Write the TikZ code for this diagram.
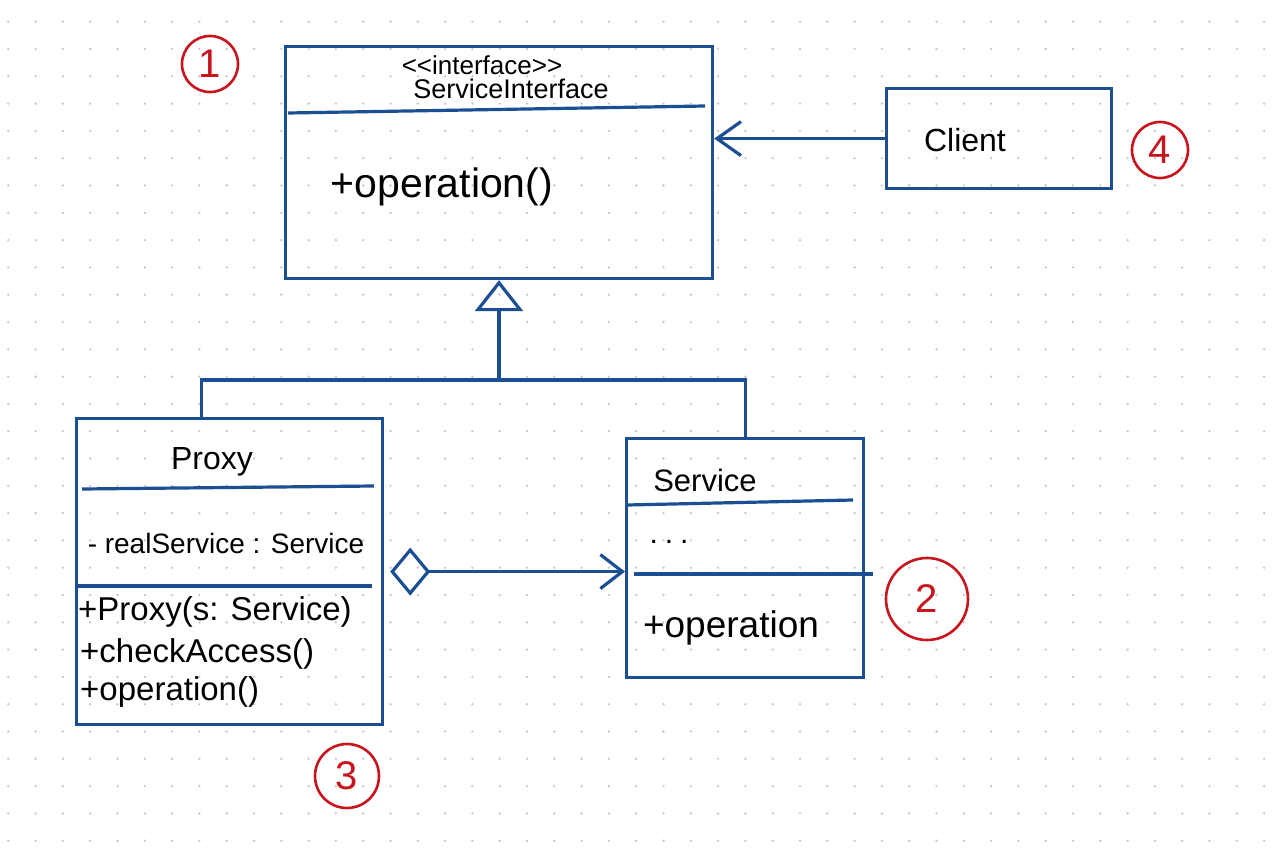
\documentclass[tikz,border=0pt]{standalone}
\usepackage{fontspec}
\setmainfont{Liberation Sans}
\usetikzlibrary{arrows.meta,calc}
\definecolor{azul}{HTML}{1C4E94}
\definecolor{rojo}{HTML}{C8141C}
\definecolor{punto}{HTML}{C8C8C8}
\tikzset{
  caja/.style={draw=azul, line width=3.2pt, rectangle, anchor=north west, inner sep=0pt},
  linea/.style={draw=azul, line width=3.2pt},
  texto/.style={inner sep=0pt, text=black},
  marca/.style={circle, draw=rojo, line width=2.6pt, text=rojo, inner sep=0pt, font=\fontsize{40}{40}\selectfont},
  asoc/.style={linea, -{Straight Barb[length=24pt, width=34pt]}},
  herencia/.style={linea, -{Triangle[open, length=31pt, width=48pt]}},
  agreg/.style={linea, {Diamond[open, length=40pt, width=48pt]}-{Straight Barb[length=22pt, width=34pt]}, shorten <=6pt}
}

\begin{document}
\begin{tikzpicture}[x=1pt, y=-1pt]
% Fondo y cuadricula de puntos
\useasboundingbox (0,0) rectangle (1280,851);
\fill[white] (0,0) rectangle (1280,851);
\foreach \i in {0,...,46} {
  \foreach \j in {0,...,30} {
    \fill[punto] ({8.3+27.3*\i},{21.7+27.3*\j}) circle (1.3pt);
  }
}
% Interfaz ServiceInterface
\node[caja, minimum width=427pt, minimum height=232pt] (iface) at (284,45) {};
\node[texto, font=\fontsize{26}{28}\selectfont] (estereo) at (482,65) {{<}{<}interface{>}{>}};
\node[texto, font=\fontsize{27}{29}\selectfont] (ifacenombre) at (511,89) {ServiceInterface};
\draw[linea] (288,113) -- (705,106);
\node[texto, font=\fontsize{41}{44}\selectfont] (ifaceop) at (442,187) {+operation()};
% Client
\node[caja, minimum width=225pt, minimum height=100pt] (client) at (885,87) {};
\node[texto, font=\fontsize{32}{34}\selectfont] (clientnombre) at (965,140) {Client};
% Proxy
\node[caja, minimum width=306pt, minimum height=306pt] (proxy) at (75,417) {};
\node[texto, font=\fontsize{32}{34}\selectfont] (proxynombre) at (212,462) {Proxy};
\draw[linea] (82,489) -- (374,486);
\node[texto, font=\fontsize{28}{30}\selectfont] (proxyatr) at (226,543) {- realService : Service};
\draw[linea] (78,586) -- (372,586);
\node[texto, anchor=west, font=\fontsize{33}{35}\selectfont] (proxym1) at (78,612) {+Proxy(s: Service)};
\node[texto, anchor=west, font=\fontsize{33}{35}\selectfont] (proxym2) at (80,654) {+checkAccess()};
\node[texto, anchor=west, font=\fontsize{33}{35}\selectfont] (proxym3) at (80,692) {+operation()};
% Service
\node[caja, minimum width=237pt, minimum height=239pt] (service) at (625,437) {};
\node[texto, font=\fontsize{31}{33}\selectfont] (servicenombre) at (705,480) {Service};
\draw[linea] (627,505) -- (853,500);
\node[texto, font=\fontsize{30}{32}\selectfont] (serviceatr) at (669,542) {.\hspace{7pt}.\hspace{7pt}.};
\draw[linea] (634,574) -- (873,574);
\node[texto, font=\fontsize{37}{39}\selectfont] (serviceop) at (731,628) {+operation};
% Conectores
\draw[asoc] (client.west) -- (client.west -| iface.east);
\coordinate (union) at (499,380);
\draw[herencia] (union) -- (union |- iface.south);
\draw[linea] ([xshift=-28pt]proxy.north) |- (union) -| (service.north);
\draw[agreg] (proxy.east) -- (proxy.east -| service.west);
% Numeros en rojo
\node[marca, minimum size=56pt] (n1) at (210,64) {1};
\node[marca, minimum size=82pt] (n2) at (927,599) {2};
\node[marca, minimum size=64pt] (n3) at (347,776) {3};
\node[marca, minimum size=56pt] (n4) at (1160,150) {4};
\end{tikzpicture}
\end{document}
